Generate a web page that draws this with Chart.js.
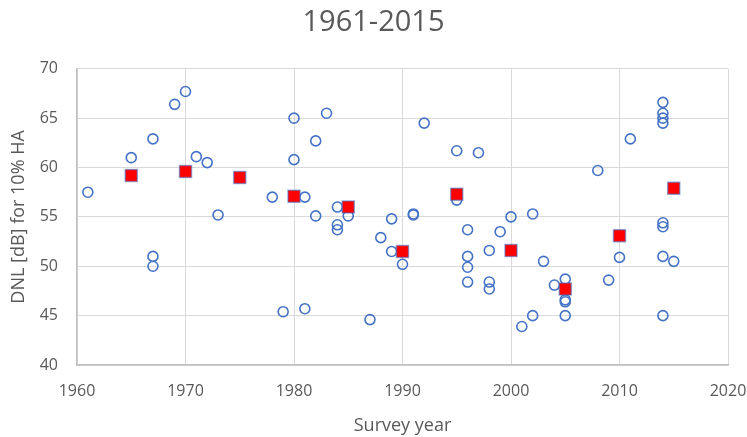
<!DOCTYPE html>
<html>
<head>
<meta charset="utf-8">
<script src="https://cdn.jsdelivr.net/npm/chart.js@4.4.0/dist/chart.umd.min.js"></script>
<style>
  html, body { margin: 0; padding: 0; background: #fff; }
  #wrap { width: 747px; height: 437px; position: relative; }
</style>
</head>
<body>
<div id="wrap"><canvas id="chartDnl"></canvas></div>
<script>
// survey points (year, DNL at 10% HA)
const surveyYears = [1961, 1965, 1967, 1967, 1967, 1969, 1970, 1971, 1972, 1973,
  1978, 1979, 1980, 1980, 1981, 1981, 1982, 1982, 1983, 1984, 1984, 1984, 1985,
  1987, 1988, 1989, 1989, 1990, 1991, 1991, 1992, 1995, 1995, 1996, 1996, 1996, 1996,
  1997, 1998, 1998, 1998, 1999, 2000, 2001, 2002, 2002, 2003, 2004, 2005, 2005, 2005, 2005,
  2008, 2009, 2010, 2011, 2014, 2014, 2014, 2014, 2014, 2014, 2014, 2014, 2015];
const surveyDnl = [57.5, 61.0, 62.9, 51.0, 50.0, 66.4, 67.7, 61.1, 60.5, 55.2,
  57.0, 45.4, 65.0, 60.8, 57.0, 45.7, 62.7, 55.1, 65.5, 56.0, 54.2, 53.7, 55.1,
  44.6, 52.9, 54.8, 51.5, 50.2, 55.3, 55.2, 64.5, 61.7, 56.7, 53.7, 51.0, 49.9, 48.4,
  61.5, 51.6, 48.4, 47.7, 53.5, 55.0, 43.9, 55.3, 45.0, 50.5, 48.1, 48.7, 46.6, 46.4, 45.0,
  59.7, 48.6, 50.9, 62.9, 66.6, 65.5, 65.0, 64.5, 54.4, 54.0, 51.0, 45.0, 50.5];

// 5-year averages (red squares)
const meanYears = [1965, 1970, 1975, 1980, 1985, 1990, 1995, 2000, 2005, 2010, 2015];
const meanDnl = [59.2, 59.6, 59.0, 57.1, 56.0, 51.5, 57.3, 51.6, 47.7, 53.1, 57.9];

const xTicks = [1960, 1970, 1980, 1990, 2000, 2010, 2020];
const yTicks = [40, 45, 50, 55, 60, 65, 70];

const textGrey = '#595959';
const ctx = document.getElementById('chartDnl').getContext('2d');

new Chart(ctx, {
  type: 'scatter',
  data: {
    datasets: [
      {
        label: 'mean',
        data: meanYears.map((y, i) => ({ x: y, y: meanDnl[i] })),
        pointStyle: 'rect',
        pointRadius: 8.5,
        backgroundColor: '#ff0000',
        borderColor: 'rgba(68,114,196,0.55)',
        borderWidth: 1.5
      },
      {
        label: 'surveys',
        data: surveyYears.map((y, i) => ({ x: y, y: surveyDnl[i] })),
        pointStyle: 'circle',
        pointRadius: 5,
        backgroundColor: 'rgba(0,0,0,0)',
        borderColor: '#4472c4',
        borderWidth: 1.6
      }
    ]
  },
  options: {
    responsive: true,
    maintainAspectRatio: false,
    animation: false,
    layout: { padding: 0 },
    plugins: {
      legend: { display: false },
      tooltip: { enabled: false },
      title: {
        display: true,
        text: '1961-2015',
        color: textGrey,
        font: { family: 'Open Sans', size: 29, weight: 'normal' },
        padding: { top: 5, bottom: 29 }
      }
    },
    scales: {
      x: {
        type: 'linear',
        min: 1960,
        max: 2020,
        afterBuildTicks: s => { s.ticks = xTicks.map(v => ({ value: v })); },
        afterFit: s => {
          s.height = 72;
          s.paddingLeft = 0;
          s.paddingRight = 19;
        },
        grid: { color: '#d9d9d9', drawTicks: false },
        border: { color: '#bfbfbf', width: 1.5 },
        ticks: {
          color: textGrey,
          padding: 17,
          maxRotation: 0,
          font: { family: 'Open Sans', size: 16 },
          callback: v => String(v)
        },
        title: {
          display: true,
          text: 'Survey year',
          color: textGrey,
          font: { family: 'Open Sans', size: 18 },
          padding: { top: 0, bottom: 0 }
        }
      },
      y: {
        min: 40,
        max: 70,
        afterBuildTicks: s => { s.ticks = yTicks.map(v => ({ value: v })); },
        afterFit: s => { s.width = 77; },
        grid: { color: '#d9d9d9', drawTicks: false },
        border: { color: '#bfbfbf', width: 1.5 },
        ticks: {
          color: textGrey,
          padding: 19,
          font: { family: 'Open Sans', size: 16 }
        },
        title: {
          display: true,
          text: 'DNL [dB] for 10% HA',
          color: textGrey,
          font: { family: 'Open Sans', size: 18 },
          padding: { top: 8, bottom: 0 }
        }
      }
    }
  }
});
</script>
</body>
</html>
